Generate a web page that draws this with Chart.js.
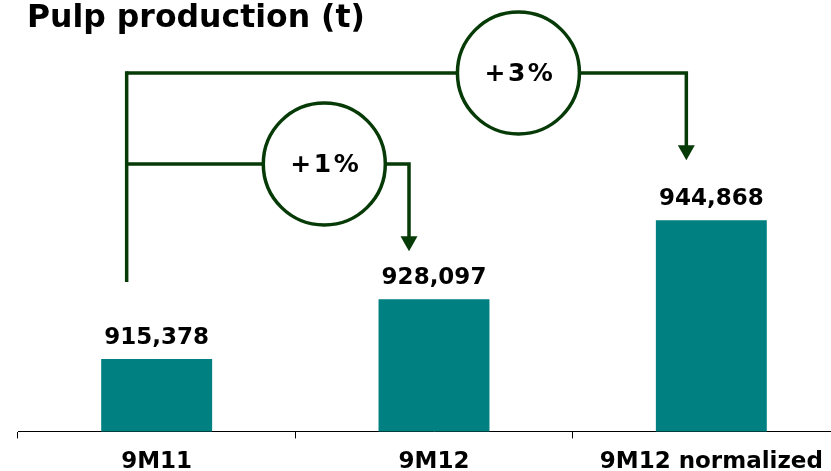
<!DOCTYPE html>
<html>
<head>
<meta charset="utf-8">
<title>Pulp production (t)</title>
<script src="https://cdn.jsdelivr.net/npm/chart.js@4.4.1/dist/chart.umd.min.js"></script>
<style>
  html, body { margin: 0; padding: 0; background: #fff; overflow: hidden; }
  #wrap { position: relative; width: 850px; height: 486px; }
  #title {
    position: absolute; left: 27px; top: -2px;
    font: bold 31.5px "DejaVu Sans", Verdana, sans-serif; color: #000;
    white-space: nowrap;
  }
</style>
</head>
<body>
<div id="wrap">
  <canvas id="chartPulp"></canvas>
  <div id="title">Pulp production (t)</div>
</div>
<script>
// Datos
const periodos = ['9M11', '9M12', '9M12 normalized'];
const produccion = [915378, 928097, 944868];
// comparaciones: desde la barra 0 hacia la 1 y la 2
const comparaciones = [
  { desde: 0, hasta: 1 },
  { desde: 0, hasta: 2 }
];

const VERDE = '#063a06';
const FUENTE = '"DejaVu Sans", Verdana, sans-serif';

// --- etiquetas de valor encima de cada barra ---
const etiquetasValor = {
  id: 'etiquetasValor',
  afterDatasetsDraw(chart) {
    const ctx = chart.ctx;
    const meta = chart.getDatasetMeta(0);
    ctx.save();
    ctx.font = 'bold 23px ' + FUENTE;
    ctx.fillStyle = '#000';
    ctx.textAlign = 'center';
    ctx.textBaseline = 'alphabetic';
    meta.data.forEach((bar, i) => {
      ctx.fillText(produccion[i].toLocaleString('en-US'), bar.x, bar.y - 15);
    });
    ctx.restore();
  }
};

// --- corchetes con flecha y circulo de variacion ---
const corchetes = {
  id: 'corchetes',
  afterDatasetsDraw(chart, args, opts) {
    const ctx = chart.ctx;
    const meta = chart.getDatasetMeta(0);
    const filas = opts.filas;     // y de cada linea horizontal
    const gaps = opts.gaps;       // distancia punta flecha -> tope de barra
    ctx.save();
    ctx.strokeStyle = VERDE;
    ctx.fillStyle = VERDE;
    ctx.lineWidth = 3.5;
    ctx.lineCap = 'butt';

    // tronco vertical comun desde la barra de origen
    const origen = meta.data[comparaciones[0].desde];
    const xTronco = origen.x - 30;
    const yArriba = Math.min(...filas);
    ctx.beginPath();
    ctx.moveTo(xTronco, yArriba - 1.75);
    ctx.lineTo(xTronco, origen.y - 77);
    ctx.stroke();

    comparaciones.forEach((c, k) => {
      const destino = meta.data[c.hasta];
      const y = filas[k];
      const xFlecha = destino.x - 25;
      const yPunta = destino.y - gaps[k];

      // horizontal + bajada
      ctx.beginPath();
      ctx.moveTo(xTronco, y);
      ctx.lineTo(xFlecha, y);
      ctx.lineTo(xFlecha, yPunta - 14);
      ctx.stroke();

      // punta
      ctx.beginPath();
      ctx.moveTo(xFlecha - 8.5, yPunta - 15);
      ctx.lineTo(xFlecha + 8.5, yPunta - 15);
      ctx.lineTo(xFlecha, yPunta);
      ctx.closePath();
      ctx.fill();

      // circulo con porcentaje
      const cx = xTronco + 0.7 * (xFlecha - xTronco);
      ctx.beginPath();
      ctx.arc(cx, y, 61, 0, Math.PI * 2);
      ctx.fillStyle = '#fff';
      ctx.fill();
      ctx.stroke();
      ctx.fillStyle = VERDE;

      const pct = Math.round((produccion[c.hasta] / produccion[c.desde] - 1) * 100);
      ctx.save();
      ctx.font = 'bold 25px ' + FUENTE;
      ctx.letterSpacing = '2.5px';
      ctx.fillStyle = '#000';
      ctx.textAlign = 'center';
      ctx.textBaseline = 'middle';
      ctx.fillText('+' + pct + '%', cx + 1.5, y + 1);
      ctx.restore();
    });
    ctx.restore();
  }
};

new Chart(document.getElementById('chartPulp'), {
  type: 'bar',
  data: {
    labels: periodos,
    datasets: [{
      data: produccion,
      backgroundColor: '#008080',
      borderWidth: 0,
      barPercentage: 0.4,
      categoryPercentage: 1
    }]
  },
  options: {
    responsive: true,
    maintainAspectRatio: false,
    animation: false,
    layout: { padding: { left: 18, right: 0, top: 8, bottom: 0 } },
    plugins: {
      legend: { display: false },
      tooltip: { enabled: false },
      corchetes: { filas: [164, 73], gaps: [48, 60] }
    },
    scales: {
      x: {
        grid: { offset: true, drawOnChartArea: false, drawTicks: true, tickLength: 7, color: '#000', lineWidth: 1 },
        border: { display: true, color: '#000', width: 1 },
        ticks: { color: '#000', padding: 10, font: { family: FUENTE, size: 23, weight: 'bold' } }
      },
      y: { display: false, min: 900000, max: 990000 }
    }
  },
  plugins: [etiquetasValor, corchetes]
});
</script>
</body>
</html>
